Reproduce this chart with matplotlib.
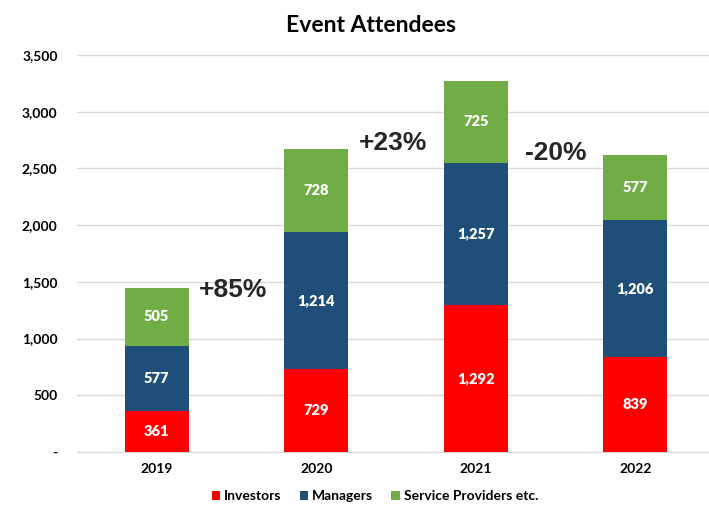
import matplotlib.pyplot as plt
from matplotlib.patches import Patch
from matplotlib.ticker import FuncFormatter
import numpy as np

# data
years = ['2019', '2020', '2021', '2022']
investors = [361, 729, 1292, 839]
managers = [577, 1214, 1257, 1206]
providers = [505, 728, 725, 577]
series_names = ['Investors', 'Managers', 'Service Providers etc.']
growth_labels = ['+85%', '+23%', '-20%']
growth_pos = [(0.48, 1430), (1.48, 2725), (2.50, 2635)]

colors = ['#FF0000', '#1F4E79', '#70AD47']
plt.rcParams['font.family'] = ['Lato', 'DejaVu Sans']

fig = plt.figure(figsize=(7.09, 5.05), dpi=100)
ax = fig.add_axes([77 / 709, 53 / 505, 638 / 709, 397 / 505])

x = np.arange(len(years))
bottom = np.zeros(len(years))
for vals, col in zip([investors, managers, providers], colors):
    bars = ax.bar(x, vals, width=0.40, bottom=bottom, color=col, zorder=3)
    for b, v in zip(bars, vals):
        ax.text(b.get_x() + b.get_width() / 2, b.get_y() + v / 2, f'{v:,}',
                ha='center', va='center', color='white', fontsize=10.5,
                fontweight='heavy')
    bottom += np.array(vals)

for lab, (px, py) in zip(growth_labels, growth_pos):
    ax.text(px, py, lab, ha='center', va='center', fontsize=19,
            family='Liberation Sans', fontweight='bold', color='#262626')

ax.set_xlim(-0.5, 3.5)
ax.set_ylim(0, 3500)
ax.set_yticks(range(0, 3501, 500))
ax.yaxis.set_major_formatter(FuncFormatter(lambda v, p: '-' if v == 0 else f'{int(v):,}'))
ax.set_xticks(x)
ax.set_xticklabels(years)
for lbl in ax.get_xticklabels() + ax.get_yticklabels():
    lbl.set_fontweight('bold')
    lbl.set_fontsize(10)
ax.tick_params(axis='both', length=0)
ax.tick_params(axis='y', pad=14)
ax.tick_params(axis='x', pad=8)
ax.grid(axis='y', color='#d9d9d9', linewidth=1, zorder=0)
for s in ['top', 'right', 'left']:
    ax.spines[s].set_visible(False)
ax.spines['bottom'].set_color('#d9d9d9')

fig.text(371 / 709, 1 - 25 / 505, 'Event Attendees', ha='center', va='center',
         fontsize=16.5, fontweight='bold')

handles = [Patch(facecolor=c) for c in colors]
fig.legend(handles, series_names, loc='center', bbox_to_anchor=(375 / 709, 1 - 496 / 505),
           ncol=3, frameon=False, prop={'weight': 'bold', 'size': 10},
           handlelength=0.6, handleheight=0.6, handletextpad=0.3, columnspacing=1.3)

fig.savefig('out.png', dpi=100)
